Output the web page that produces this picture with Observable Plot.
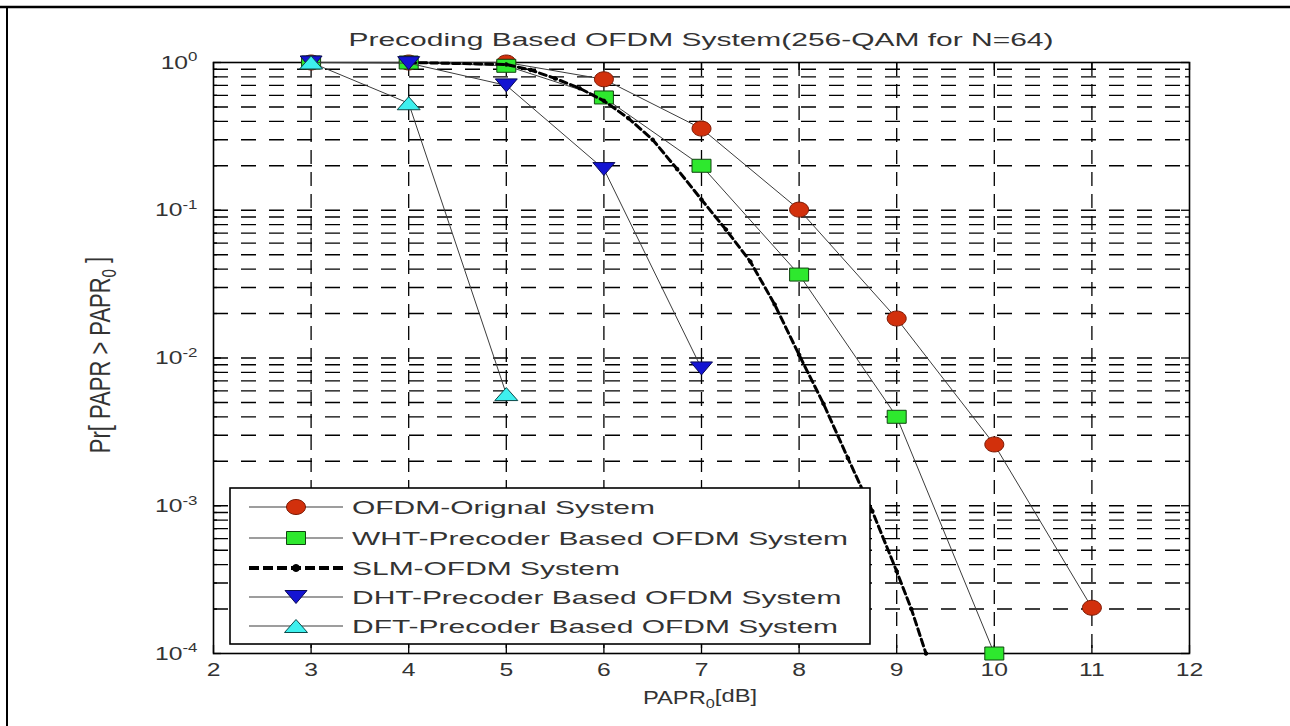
<!DOCTYPE html>
<html><head><meta charset="utf-8">
<script src="https://cdn.jsdelivr.net/npm/d3@7"></script>
<script src="https://cdn.jsdelivr.net/npm/@observablehq/plot@0.6"></script>
<style>html,body{margin:0;padding:0;background:#fff;} svg{display:block}</style>
</head><body><div id="chart"></div>
<script>
// ---------- data ----------
const ofdmX = [3, 4, 5, 6, 7, 8, 9, 10, 11];
const ofdmY = [1, 1, 1, 0.77, 0.357, 0.101, 0.0185, 0.0026, 0.000204];
const whtX = [3, 4, 5, 6, 7, 8, 9, 10];
const whtY = [1, 1, 0.95, 0.58, 0.2, 0.0367, 0.0040, 0.0001];
const slmX = [4, 5, 5.25, 5.5, 5.75, 6, 6.25, 6.5, 6.75, 7, 7.25, 7.5, 7.75, 8, 8.25, 8.5, 8.75, 9, 9.15, 9.3];
const slmY = [1, 0.97, 0.89, 0.78, 0.67, 0.55, 0.42, 0.30, 0.19, 0.118, 0.074, 0.045, 0.023, 0.0105, 0.0049, 0.0021, 0.00092, 0.00036, 0.0002, 0.0001];
const dhtX = [3, 4, 5, 6, 7];
const dhtY = [1, 0.99, 0.70, 0.19, 0.0085];
const dftX = [3, 4, 5];
const dftY = [1, 0.53, 0.0057];
const seriesNames = [
  "OFDM-Orignal System",
  "WHT-Precoder Based OFDM System",
  "SLM-OFDM System",
  "DHT-Precoder Based OFDM System",
  "DFT-Precoder Based OFDM System"
];
const xTicks = [2, 3, 4, 5, 6, 7, 8, 9, 10, 11, 12];
const yTicks = [1e-4, 1e-3, 1e-2, 1e-1, 1];
const yTickExponents = ["-4", "-3", "-2", "-1", "0"];
const titleText = "Precoding Based OFDM System(256-QAM for N=64)";
const xLabelParts = ["PAPR", "0", "[dB]"];
const yLabelParts = ["Pr[ PAPR > PAPR", "0", " ]"];

// ---------- layout / style ----------
const W = 1290, H = 726;
const ML = 213, MR = 101, MT = 62, MB = 73;
const FW = W - ML - MR, FH = H - MT - MB;
const FONT = "'Liberation Sans', Arial, Helvetica, sans-serif";
const TXT = "#333";
const LINE = "#3c3c3c";

const toRows = (xs, ys) => xs.map((x, i) => ({x, y: ys[i]}));
const ofdm = toRows(ofdmX, ofdmY);
const wht = toRows(whtX, whtY);
const slm = toRows(slmX, slmY);
const dht = toRows(dhtX, dhtY);
const dft = toRows(dftX, dftY);

// marker shapes (horizontally wide, as in the reference)
const ellipseSym = {draw(c) { const rx = 9.5, ry = 7.5, k = 0.5523;
  c.moveTo(rx, 0); c.bezierCurveTo(rx, ry*k, rx*k, ry, 0, ry); c.bezierCurveTo(-rx*k, ry, -rx, ry*k, -rx, 0);
  c.bezierCurveTo(-rx, -ry*k, -rx*k, -ry, 0, -ry); c.bezierCurveTo(rx*k, -ry, rx, -ry*k, rx, 0); c.closePath(); }};
const rectSym = {draw(c) { c.moveTo(-9.5, -6.5); c.lineTo(9.5, -6.5); c.lineTo(9.5, 6.5); c.lineTo(-9.5, 6.5); c.closePath(); }};
const triDownSym = {draw(c) { c.moveTo(-11, -6.5); c.lineTo(11, -6.5); c.lineTo(0, 6.5); c.closePath(); }};
const triUpSym = {draw(c) { c.moveTo(0, -6.5); c.lineTo(11.5, 6.5); c.lineTo(-11.5, 6.5); c.closePath(); }};
const dotSym = {draw(c) { c.moveTo(1.8, 0); c.arc(0, 0, 1.8, 0, 2 * Math.PI); }};
const bigDotSym = {draw(c) { c.moveTo(3.5, 0); c.arc(0, 0, 3.5, 0, 2 * Math.PI); }};

const styles = [
  {sym: ellipseSym, fill: "#d2300c", stroke: "#7a1a05", dash: null, width: 1},
  {sym: rectSym, fill: "#2ee82e", stroke: "#114411", dash: null, width: 1},
  {sym: dotSym, legendSym: bigDotSym, fill: "black", stroke: "black", dash: "7,4", width: 3},
  {sym: triDownSym, fill: "#1414d2", stroke: "#0a0a55", dash: null, width: 1},
  {sym: triUpSym, fill: "#3ef0ee", stroke: "#0c4a4a", dash: null, width: 1}
];
const seriesData = [ofdm, wht, slm, dht, dft];

// grid positions
const gridX = xTicks.slice(1, -1);
const gridYMinor = [];
for (let e = -4; e < 0; e++) for (let m = 2; m <= 9; m++) gridYMinor.push(m * Math.pow(10, e));
const gridYMajor = yTicks.slice(1, -1);

const marks = [
  Plot.ruleY(gridYMinor.concat(gridYMajor), {y: d => d, stroke: "black", strokeWidth: 1.3, strokeDasharray: "15,13"}),
  Plot.ruleX(gridX, {x: d => d, stroke: "black", strokeWidth: 1.3, strokeDasharray: "14,8"}),
  // inward ticks
  Plot.tickX(xTicks, {x: d => d, insetTop: FH - 8, stroke: "black", strokeWidth: 1.3}),
  Plot.tickX(xTicks, {x: d => d, insetBottom: FH - 8, stroke: "black", strokeWidth: 1.3}),
  Plot.tickY(yTicks, {y: d => d, insetRight: FW - 8, stroke: "black", strokeWidth: 1.3}),
  Plot.tickY(yTicks, {y: d => d, insetLeft: FW - 8, stroke: "black", strokeWidth: 1.3}),
  Plot.tickY(gridYMinor, {y: d => d, insetRight: FW - 4, stroke: "black", strokeWidth: 1.3}),
  Plot.tickY(gridYMinor, {y: d => d, insetLeft: FW - 4, stroke: "black", strokeWidth: 1.3}),
  Plot.frame({stroke: "black", strokeWidth: 1.6})
];
seriesData.forEach((d, i) => {
  const s = styles[i];
  marks.push(Plot.line(d, {x: "x", y: "y", stroke: i === 2 ? "black" : LINE, strokeWidth: s.width,
    strokeDasharray: s.dash || undefined, curve: "linear"}));
  marks.push(Plot.dot(d, {x: "x", y: "y", symbol: s.sym, r: 5, fill: s.fill, stroke: s.stroke, strokeWidth: 1}));
});

const plot = Plot.plot({
  width: W, height: H,
  marginLeft: ML, marginRight: MR, marginTop: MT, marginBottom: MB,
  style: {fontFamily: FONT, fontSize: "19px", color: TXT, background: "white", overflow: "visible"},
  x: {domain: [2, 12], ticks: xTicks, tickSize: 0, tickPadding: 9, label: null, tickFormat: d => String(d)},
  y: {type: "log", domain: [1e-4, 1], ticks: yTicks, tickSize: 0, tickPadding: 16, label: null,
      tickFormat: d => "10^" + yTickExponents[yTicks.indexOf(d)]},
  marks
});
document.getElementById("chart").appendChild(plot);

const svgNS = "http://www.w3.org/2000/svg";
function stretchText(el, s) {
  const bb = el.getBBox();
  const anchor = getComputedStyle(el).textAnchor;
  const ax = anchor === "end" ? bb.x + bb.width : anchor === "middle" ? bb.x + bb.width / 2 : bb.x;
  const t = el.getAttribute("transform") || "";
  el.setAttribute("transform", `${t} translate(${ax},0) scale(${s},1) translate(${-ax},0)`);
}

// y tick labels: 10 with superscript exponent
plot.querySelectorAll('g[aria-label^="y-axis"] text').forEach(el => {
  const txt = el.textContent;
  if (!txt.includes("^")) return;
  const [base, exp] = txt.split("^");
  el.textContent = "";
  const t1 = document.createElementNS(svgNS, "tspan"); t1.textContent = base; el.appendChild(t1);
  const t2 = document.createElementNS(svgNS, "tspan"); t2.textContent = exp;
  t2.setAttribute("dy", "-0.55em"); t2.setAttribute("font-size", "13px"); el.appendChild(t2);
  stretchText(el, 1.3);
});
plot.querySelectorAll('g[aria-label^="x-axis"] text').forEach(el => stretchText(el, 1.3));

const svg = d3.select(plot);

// page border lines
svg.append("line").attr("x1", 0).attr("x2", W).attr("y1", 7).attr("y2", 7).attr("stroke", "black").attr("stroke-width", 2.6);
svg.append("line").attr("x1", 7).attr("x2", 7).attr("y1", 6).attr("y2", H).attr("stroke", "black").attr("stroke-width", 2);

// title
svg.append("text").attr("transform", `translate(701,46) scale(1.62,1)`).attr("text-anchor", "middle")
  .attr("font-size", "18.5px").attr("fill", TXT).text(titleText);

// x label
const xl = svg.append("text").attr("transform", `translate(700,704) scale(1.25,1)`).attr("text-anchor", "middle")
  .attr("font-size", "19px").attr("fill", TXT);
xl.append("tspan").text(xLabelParts[0]);
xl.append("tspan").attr("dy", "0.3em").attr("font-size", "13px").text(xLabelParts[1]);
xl.append("tspan").attr("dy", "-0.3em").text(xLabelParts[2]);

// y label
const yl = svg.append("text").attr("transform", `translate(110,355) rotate(-90) scale(1,1.35)`).attr("text-anchor", "middle")
  .attr("font-size", "22px").attr("fill", TXT);
yl.append("tspan").text(yLabelParts[0]);
yl.append("tspan").attr("dy", "0.3em").attr("font-size", "15px").text(yLabelParts[1]);
yl.append("tspan").attr("dy", "-0.3em").text(yLabelParts[2]);

// legend
const lg = svg.append("g");
lg.append("rect").attr("x", 230).attr("y", 488).attr("width", 640).attr("height", 156)
  .attr("fill", "white").attr("stroke", "black").attr("stroke-width", 1.6);
const rowY = [507, 538, 568, 597, 626];
seriesNames.forEach((name, i) => {
  const s = styles[i], y = rowY[i];
  lg.append("line").attr("x1", 249).attr("x2", 343).attr("y1", y).attr("y2", y)
    .attr("stroke", i === 2 ? "black" : LINE).attr("stroke-width", i === 2 ? 4 : 1.2)
    .attr("stroke-dasharray", i === 2 ? "10,4" : null);
  lg.append("path").attr("transform", `translate(296,${y})`).attr("d", d3.symbol(s.legendSym || s.sym, 1)())
    .attr("fill", s.fill).attr("stroke", s.stroke).attr("stroke-width", 1);
  lg.append("text").attr("transform", `translate(352,${y + 7}) scale(1.62,1)`).attr("text-anchor", "start")
    .attr("font-size", "18.5px").attr("fill", TXT).text(name);
});
</script>
</body></html>
